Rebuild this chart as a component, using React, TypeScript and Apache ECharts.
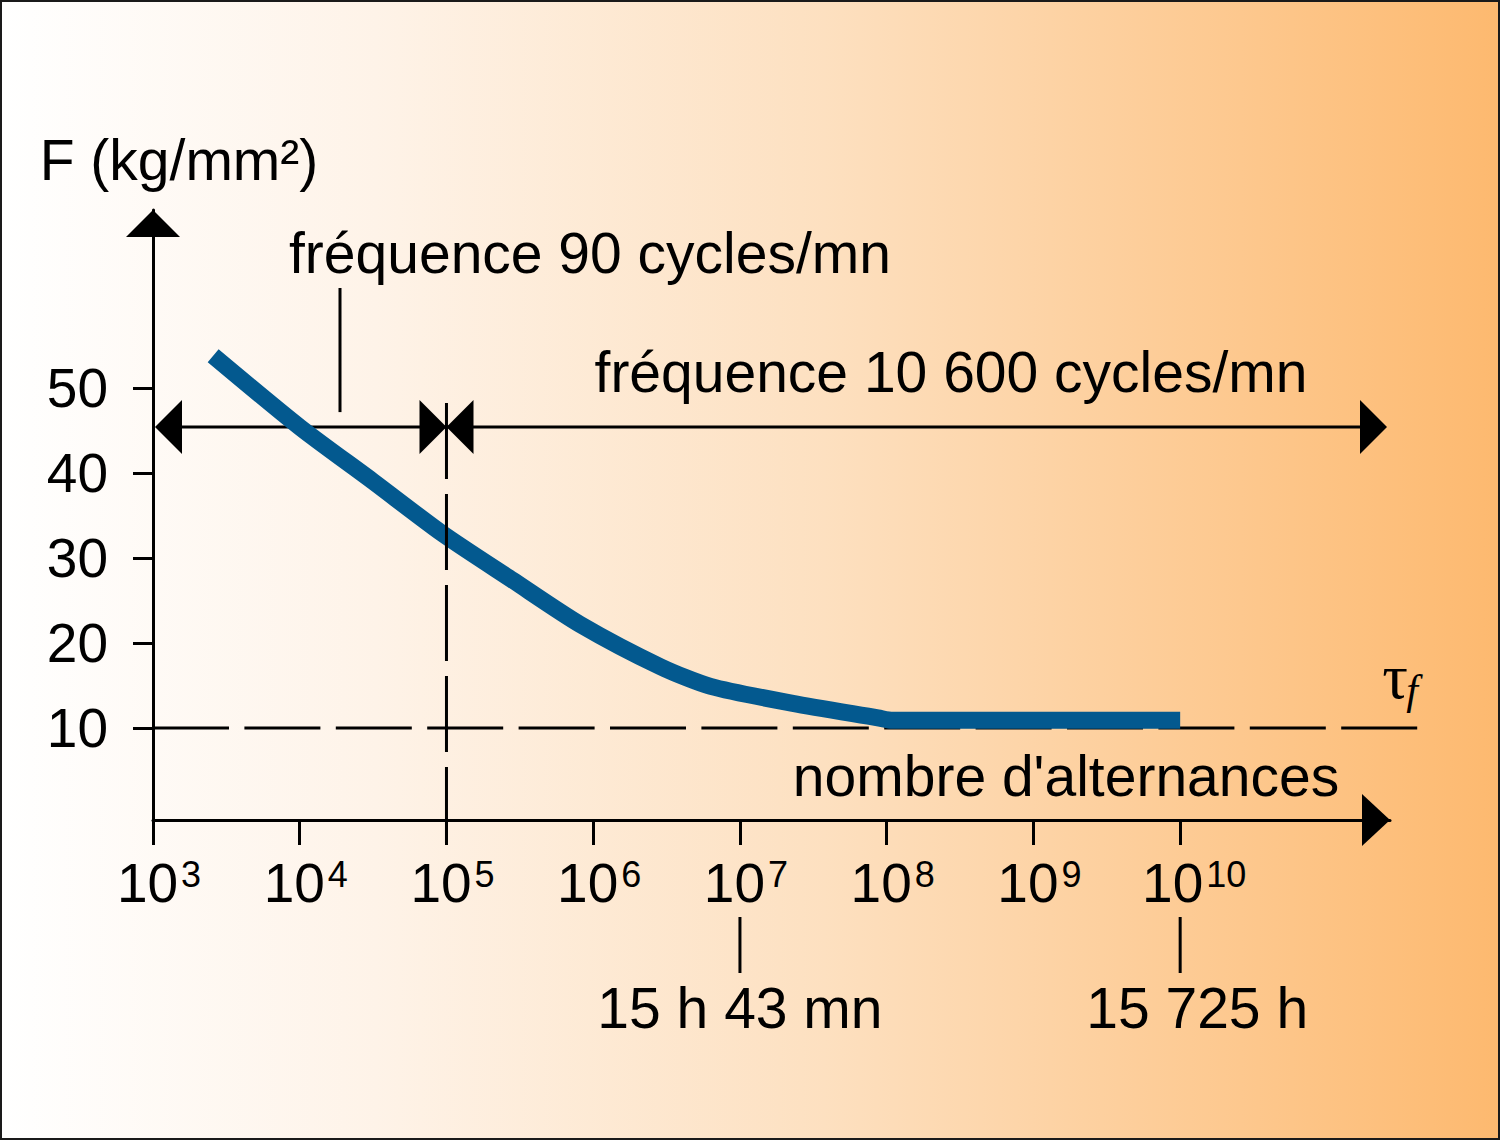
import React, { useEffect, useRef } from "react";
import * as echarts from "echarts";

// log10 of the number of alternations at each x tick (10^3 ... 10^10)
const decadeTicks = [3, 4, 5, 6, 7, 8, 9, 10];
// F (kg/mm²) tick values
const fTicks = [10, 20, 30, 40, 50];
// Wöhler curve: log10(number of alternations) and F (kg/mm²)
const curveLogN = [3.41, 4.0, 4.5, 4.97, 5.45, 5.91, 6.46, 6.8, 7.36, 7.94, 8.04, 10.0];
const curveF = [53.8, 45.4, 39.0, 32.9, 27.4, 22.2, 17.2, 14.9, 12.9, 11.2, 10.9, 10.9];
// endurance limit τf
const enduranceF = 10;
// frequency change at 10^5 alternations
const changeLogN = 5;
// level of the frequency range arrows
const bandF = 45.4;
// duration marks under the x axis
const hourLogN = [7, 10];
const hourLabels = ["15 h 43 mn", "15 725 h"];

const FONT = '"Liberation Sans", Arial, Helvetica, sans-serif';
const SERIF = '"Liberation Serif", "DejaVu Serif", serif';
const X_MIN = 3;
const X_MAX = 11.43;
const Y_MIN = -0.82;
const Y_MAX = 70.94;

export default function App() {
  const ref = useRef<HTMLDivElement>(null);
  useEffect(() => {
    document.body.style.margin = "0";
    const el = ref.current!;
    const chart = echarts.init(el, null, { renderer: "svg" });
    chart.setOption({
      animation: false,
      grid: { left: 153, right: 110, top: 210, bottom: 320, containLabel: false },
      xAxis: {
        type: "value",
        min: X_MIN,
        max: X_MAX,
        splitLine: { show: false },
        axisLine: { show: true, onZero: false, lineStyle: { color: "#000", width: 3 } },
        axisTick: {
          show: true,
          customValues: decadeTicks,
          length: 25,
          lineStyle: { color: "#000", width: 3 },
        },
        axisLabel: {
          show: true,
          customValues: decadeTicks,
          margin: 35,
          formatter: (v: number) => (v >= 10 ? `{w2| }{b|10}{s|${v}}` : `{w1| }{b|10}{s|${v}}`),
          rich: {
            w1: { width: 12, fontSize: 10 },
            w2: { width: 28, fontSize: 10 },
            b: { fontSize: 55, fontFamily: FONT, color: "#000", lineHeight: 56 },
            s: {
              fontSize: 36,
              fontFamily: FONT,
              color: "#000",
              verticalAlign: "top",
              lineHeight: 36,
              padding: [1, 0, 0, 3],
            },
          },
        },
      },
      yAxis: {
        type: "value",
        min: Y_MIN,
        max: Y_MAX,
        splitLine: { show: false },
        axisLine: { show: true, onZero: false, lineStyle: { color: "#000", width: 3 } },
        axisTick: {
          show: true,
          customValues: fTicks,
          length: 20,
          lineStyle: { color: "#000", width: 3 },
        },
        axisLabel: {
          show: true,
          customValues: fTicks,
          margin: 45,
          fontSize: 55,
          fontFamily: FONT,
          color: "#000",
        },
      },
      series: [
        {
          type: "line",
          data: curveLogN.map((x, i) => [x, curveF[i]]),
          symbol: "none",
          smooth: 0.25,
          z: 5,
          lineStyle: { color: "#03598F", width: 17, cap: "butt" },
        },
      ],
    });

    const P = (x: number, y: number) =>
      chart.convertToPixel({ gridIndex: 0 }, [x, y]) as number[];
    const [x0, y0] = P(X_MIN, Y_MIN);
    const [xr, yTop] = P(X_MAX, Y_MAX);
    const bandY = P(X_MIN, bandF)[1];
    const xChange = P(changeLogN, 0)[0];
    const yEnd = P(0, enduranceF)[1];
    const xBandLeft = x0 + 2;
    const xBandRight = xr - 3;
    const xDashEnd = x0 + 91.4 * 13 + 76;

    const black = "#000";
    const texts: any[] = [
      { text: "F (kg/mm²)", x: 179, y: 160, size: 57 },
      { text: "fréquence 90 cycles/mn", x: 590, y: 253, size: 57 },
      { text: "fréquence 10 600 cycles/mn", x: 951, y: 372, size: 57 },
      { text: "nombre d'alternances", x: 1066, y: 776, size: 57 },
    ].map((t) => ({
      type: "text",
      x: t.x,
      y: t.y,
      z: 20,
      style: {
        text: t.text,
        fill: black,
        fontSize: t.size,
        fontFamily: FONT,
        textAlign: "center",
        textVerticalAlign: "middle",
      },
    }));

    const hourEls: any[] = [];
    hourLogN.forEach((lx, i) => {
      const px = P(lx, 0)[0];
      hourEls.push({
        type: "line",
        z: 20,
        shape: { x1: px, y1: 917, x2: px, y2: 973 },
        style: { stroke: black, lineWidth: 3 },
      });
      hourEls.push({
        type: "text",
        x: px + (i === 0 ? 0 : 17),
        y: 1008,
        z: 20,
        style: {
          text: hourLabels[i],
          fill: black,
          fontSize: 57,
          fontFamily: FONT,
          textAlign: "center",
          textVerticalAlign: "middle",
        },
      });
    });

    const ah = 27; // arrowhead half height
    const al = 27; // arrowhead length
    chart.setOption({
      graphic: [
        {
          type: "rect",
          z: -100,
          silent: true,
          shape: { x: 0, y: 0, width: 1500, height: 1140 },
          style: {
            fill: new echarts.graphic.LinearGradient(0, 0, 1, 0, [
              { offset: 0, color: "#FFFFFF" },
              { offset: 0.25, color: "#FEF3E8" },
              { offset: 0.55, color: "#FDE0C0" },
              { offset: 1, color: "#FDB96F" },
            ]),
          },
        },
        {
          type: "rect",
          z: 50,
          silent: true,
          shape: { x: 1, y: 1, width: 1498, height: 1138 },
          style: { fill: "none", stroke: "#1a1a1a", lineWidth: 2 },
        },
        // axis arrowheads
        {
          type: "polygon",
          z: 20,
          shape: { points: [[x0, yTop], [x0 - 27, yTop + 27], [x0 + 27, yTop + 27]] },
          style: { fill: black },
        },
        {
          type: "polygon",
          z: 20,
          shape: { points: [[xr, y0], [xr - 28, y0 - 26], [xr - 28, y0 + 26]] },
          style: { fill: black },
        },
        // frequency range arrows
        {
          type: "line",
          z: 1,
          shape: { x1: xBandLeft + 5, y1: bandY, x2: xBandRight - 5, y2: bandY },
          style: { stroke: black, lineWidth: 3 },
        },
        {
          type: "polygon",
          z: 20,
          shape: { points: [[xBandLeft, bandY], [xBandLeft + al, bandY - ah], [xBandLeft + al, bandY + ah]] },
          style: { fill: black },
        },
        {
          type: "polygon",
          z: 20,
          shape: { points: [[xChange, bandY], [xChange - al, bandY - ah], [xChange - al, bandY + ah]] },
          style: { fill: black },
        },
        {
          type: "polygon",
          z: 20,
          shape: { points: [[xChange, bandY], [xChange + al, bandY - ah], [xChange + al, bandY + ah]] },
          style: { fill: black },
        },
        {
          type: "polygon",
          z: 20,
          shape: { points: [[xBandRight, bandY], [xBandRight - al, bandY - ah], [xBandRight - al, bandY + ah]] },
          style: { fill: black },
        },
        // leader of "fréquence 90 cycles/mn"
        {
          type: "line",
          z: 20,
          shape: { x1: 340, y1: 288, x2: 340, y2: bandY - 15 },
          style: { stroke: black, lineWidth: 3 },
        },
        // dashed vertical at 10^5
        {
          type: "line",
          z: 20,
          shape: { x1: xChange, y1: bandY - 24, x2: xChange, y2: y0 + 25 },
          style: { stroke: black, lineWidth: 3, lineDash: [76, 15] },
        },
        // dashed endurance limit
        {
          type: "line",
          z: 1,
          shape: { x1: x0, y1: yEnd, x2: xDashEnd, y2: yEnd },
          style: { stroke: black, lineWidth: 3, lineDash: [76, 15.4] },
        },
        {
          type: "text",
          x: 1395,
          y: 676,
          z: 20,
          style: {
            text: "τ",
            fill: black,
            fontSize: 64,
            fontFamily: SERIF,
            textAlign: "center",
            textVerticalAlign: "middle",
          },
        },
        {
          type: "text",
          x: 1412,
          y: 690,
          z: 20,
          style: {
            text: "f",
            fill: black,
            fontSize: 42,
            fontStyle: "italic",
            fontFamily: SERIF,
            textAlign: "center",
            textVerticalAlign: "middle",
          },
        },
        ...texts,
        ...hourEls,
      ],
    });
    return () => chart.dispose();
  }, []);
  return <div ref={ref} style={{ width: 1500, height: 1140 }} />;
}
